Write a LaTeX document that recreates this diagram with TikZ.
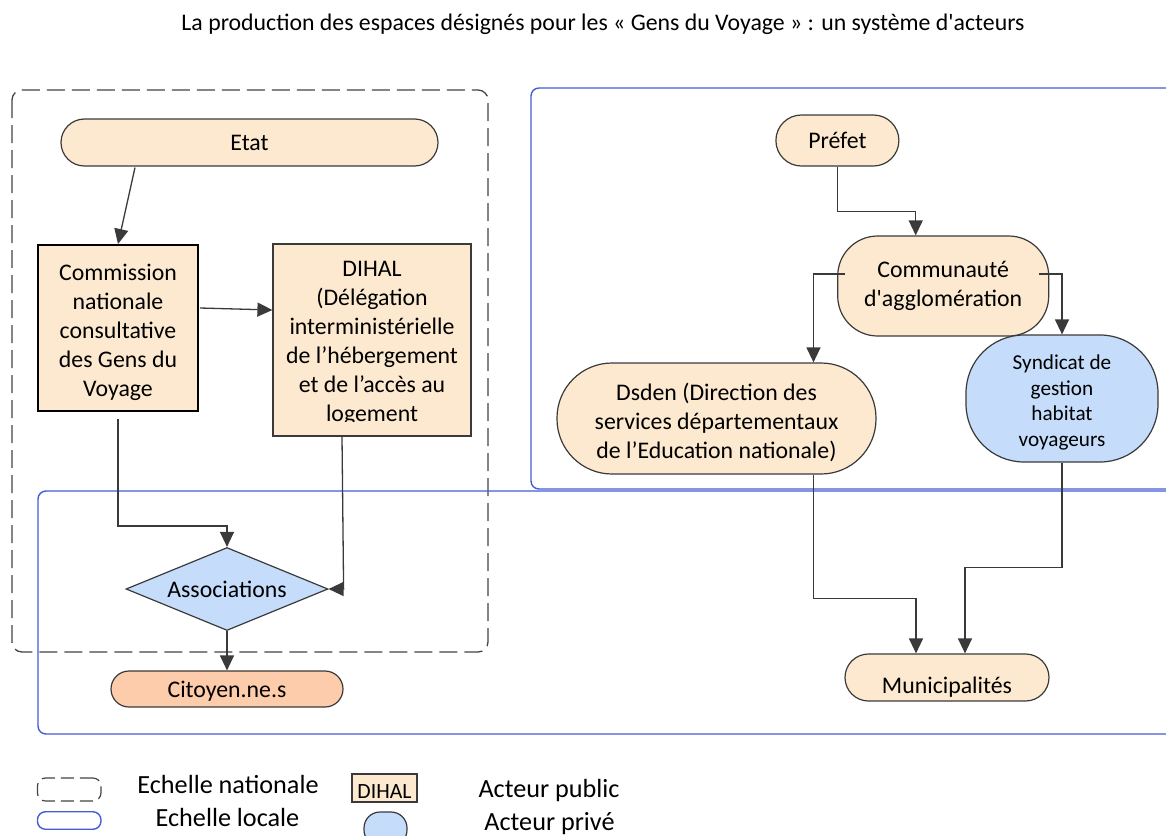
\documentclass[tikz,border=0pt]{standalone}
\usepackage{fontspec}
\setmainfont{Carlito}
\usetikzlibrary{arrows.meta,shapes.geometric,calc}
\definecolor{peach}{RGB}{252,233,207}
\definecolor{salmon}{RGB}{253,204,170}
\definecolor{paleblue}{RGB}{198,220,251}
\definecolor{edgec}{RGB}{58,58,58}
\definecolor{localblue}{RGB}{68,92,214}
\definecolor{natgray}{RGB}{68,68,68}
\newcommand\fsbox{\fontsize{23.8}{29}\selectfont}
\newcommand\fssynd{\fontsize{21.2}{25.7}\selectfont}
\newcommand\fsleg{\fontsize{26.2}{30}\selectfont}
\newcommand\fssmall{\fontsize{21.7}{24}\selectfont}
\begin{document}
\begin{tikzpicture}[x=1pt,y=-1pt,
  actor/.style={draw=edgec, line width=1.2pt, fill=peach, align=center, inner sep=0pt, font=\fsbox},
  prive/.style={actor, fill=paleblue},
  conn/.style={draw=edgec, line width=1.3pt, -{Triangle[length=15pt,width=14pt]}},
  natframe/.style={draw=natgray, line width=1.3pt, dash pattern=on 18pt off 7pt, rounded corners=10pt},
  locframe/.style={draw=localblue, line width=1.4pt, rounded corners=8pt},
  plain/.style={inner sep=0pt, align=center}
]
\useasboundingbox (0,0) rectangle (1166,835);
\clip (0,0) rectangle (1166,835);

% title
\node[plain, font=\fsbox] (title) at (603,24) {La production des espaces désignés pour les « Gens du Voyage » : un système d\textquotesingle acteurs};

% frames
\draw[natframe] (12,90) rectangle (488,652);
\draw[locframe] (1190,88) -- (531,88) -- (531,489) -- (1190,489);
\draw[locframe] (1190,491) -- (38,491) -- (38,734) -- (1190,734);

% national actors
\node[actor, rounded corners=23.5pt, minimum width=377pt, minimum height=47pt] (etat) at (249.5,142.5) {Etat};
\node[actor, draw=black, line width=2pt, minimum width=160pt, minimum height=166pt] (comm) at (118,328) {};
\node[plain, font=\fsbox] (commtext) at (118,332) {Commission\\nationale\\consultative\\des Gens du\\Voyage};
\node[actor, minimum width=198pt, minimum height=192pt] (dihal) at (372,340) {};
\begin{scope}
  \clip (273,244) rectangle (471,421);
  \node[plain, font=\fsbox] (dihaltext) at (372,343) {DIHAL\\(Délégation\\interministérielle\\de l’hébergement\\et de l’accès au\\logement};
\end{scope}
\node[prive, shape=diamond, aspect=2.43, minimum width=202pt, minimum height=83pt] (assoc) at (227,589) {Associations};
\node[actor, fill=salmon, rounded corners=18pt, minimum width=232pt, minimum height=36pt, text height=20pt, text depth=3pt] (cit) at (227,689) {Citoyen.ne.s};

% local actors
\node[actor, rounded corners=25.5pt, minimum width=123pt, minimum height=51pt] (prefet) at (837.4,140.5) {Préfet};
\node[actor, rounded corners=40pt, minimum width=211pt, minimum height=100pt] (commu) at (943.2,286) {Communauté\\d\textquotesingle agglomération};
\node[actor, rounded corners=55pt, minimum width=319pt, minimum height=111pt] (dsden) at (716.5,418.5) {};
\node[plain, font=\fsbox] (dsdentext) at (716.5,422.5) {Dsden (Direction des\\services départementaux\\de l’Education nationale)};
\node[prive, rounded corners=58pt, minimum width=192pt, minimum height=127pt] (synd) at (1062,398.5) {};
\node[plain, font=\fssynd] (syndtext) at (1062,402.5) {Syndicat de\\gestion\\habitat\\voyageurs};
\node[actor, rounded corners=23.5pt, minimum width=204pt, minimum height=47pt, text height=31pt, text depth=0pt] (muni) at (947,677.5) {Municipalités};

% connectors
\draw[conn] ($(etat.south)+(-114.5,1)$) -- (comm.north);
\draw[conn] ($(comm.east)+(1,-20)$) -- ($(dihal.west)+(0,-30)$);
\draw[conn] ($(comm.south)+(0,7)$) -- ++(0,107) -| (assoc.north);
\draw[conn] ($(dihal.south)+(-30,0)$) -- ($(assoc.east)+(15,0)$) -- (assoc.east);
\draw[conn] (assoc.south) -- (cit.north);
\draw[conn] (prefet.south) -- ++(0,45) -| ($(commu.north)+(-27.5,0)$);
\draw[conn] ($(commu.west)+(8,-12)$) -| ($(dsden.north)+(97,0)$);
\draw[conn] ($(commu.east)+(-10,-12)$) -| (synd.north);
\draw[conn] ($(dsden.south)+(97,0)$) -- ++(0,124) -| ($(muni.north)+(-31,0)$);
\draw[conn] (synd.south) -- ++(0,105) -| ($(muni.north)+(18,0)$);

% legend
\node[natframe, line width=1.2pt, dash pattern=on 13pt off 6pt, rounded corners=8pt, minimum width=63.5pt, minimum height=23pt, inner sep=0pt] (legnat) at (69.2,789.5) {};
\node[locframe, rounded corners=8pt, minimum width=63.5pt, minimum height=17.5pt, inner sep=0pt] (legloc) at (69.2,820.5) {};
\node[plain, font=\fsleg] (legnattxt) at (228,784) {Echelle nationale};
\node[plain, font=\fsleg] (leglocxt) at (227.5,817) {Echelle locale};
\node[actor, line width=1.1pt, font=\fssmall, minimum width=65pt, minimum height=28pt, text height=20pt, text depth=0pt] (legpub) at (384.5,788) {DIHAL};
\node[prive, rounded corners=16pt, minimum width=43pt, minimum height=34pt] (legpriv) at (385.5,829) {};
\node[plain, font=\fsleg] (legpubtxt) at (549,791) {Acteur public};
\node[plain, font=\fsleg] (legprivtxt) at (549.5,823.5) {Acteur privé};
\end{tikzpicture}
\end{document}
